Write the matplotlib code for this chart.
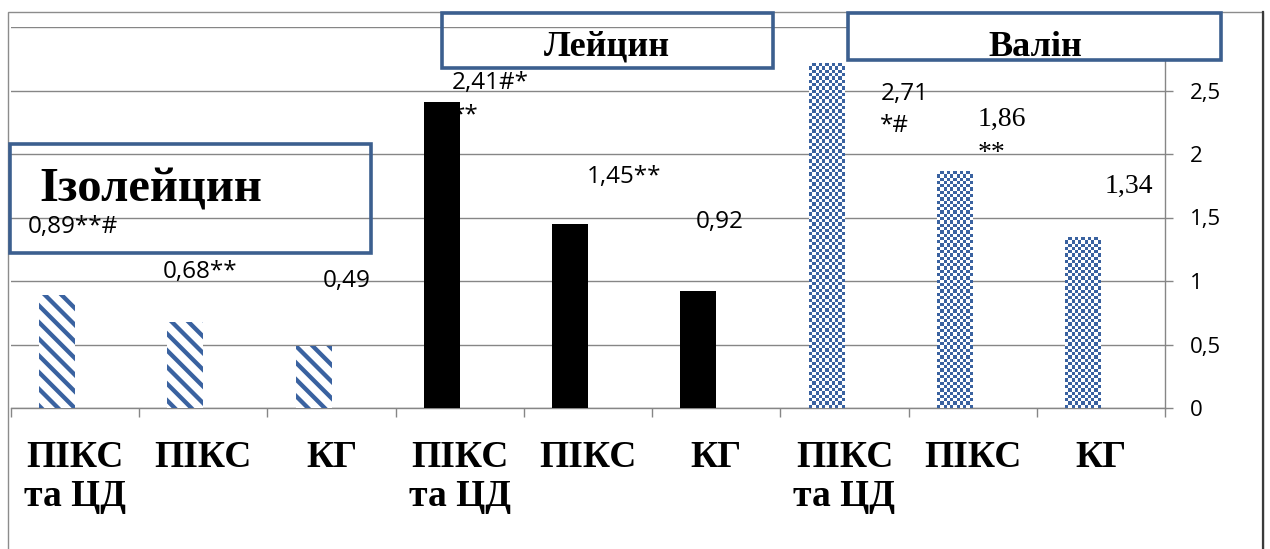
#!/usr/bin/python
# -*- coding: utf-8 -*-

import matplotlib
matplotlib.use('Agg')
from matplotlib import colors
from matplotlib import lines
from matplotlib import patches
from matplotlib import pyplot
from matplotlib import ticker
import numpy

categories = ['ПІКС\nта ЦД', 'ПІКС', 'КГ'] * 3
groups = ['Ізолейцин', 'Лейцин', 'Валін']
isoleucine = [0.89, 0.68, 0.49]
leucine = [2.41, 1.45, 0.92]
valine = [2.71, 1.86, 1.34]
isoleucine_marks = ['**#', '**', '']
leucine_marks = ['#*\n**', '**', '']
valine_marks = ['\n*#', '\n**', '']
y_ticks = [0, 0.5, 1, 1.5, 2, 2.5, 3]

W, H = 1270, 549
BLUE = '#3a62a0'
BOX = '#3c5f8f'
GRID = '#868686'
SERIF = 'Liberation Serif'


def fx(px):
  return px / W


def fy(py):
  return 1 - py / H


def fmt(v):
  return ('%g' % v).replace('.', ',')


def box(fig, x0, y0, x1, y1, fill):
  fig.add_artist(patches.Rectangle(
      (fx(x0), fy(y1)), (x1 - x0) / W, (y1 - y0) / H,
      transform=fig.transFigure,
      facecolor='white' if fill else 'none',
      edgecolor=BOX,
      linewidth=2.6,
      zorder=5))


def main():
  pyplot.rcParams['font.family'] = ['Open Sans', 'DejaVu Sans']
  pyplot.rcParams['hatch.linewidth'] = 3.1

  fig = pyplot.figure(figsize=(W / 100, H / 100), dpi=100)
  ax = fig.add_axes([fx(11), fy(408), (1165 - 11) / W, (408 - 27) / H])

  x = numpy.arange(len(categories))
  width = 0.28
  ax.bar(x[0:3] - width / 2, isoleucine, width=width, facecolor='white',
         edgecolor=BLUE, hatch='\\\\', linewidth=0, zorder=3)
  ax.bar(x[3:6] - width / 2, leucine, width=width, color='black', zorder=3)
  valine_bars = ax.bar(x[6:9] - width / 2, valine, width=width,
                       color='white', linewidth=0, zorder=3)

  # checkerboard fill for the valine bars
  cmap = colors.ListedColormap(['white', BLUE])
  px_per_unit = (408 - 27) / 3.0
  for bar in valine_bars:
    x0, w, h = bar.get_x(), bar.get_width(), bar.get_height()
    nx = 11
    ny = int(round(h * px_per_unit / 3.3))
    checker = numpy.add.outer(numpy.arange(ny), numpy.arange(nx)) % 2
    ax.imshow(checker, cmap=cmap, extent=(x0, x0 + w, 0, h),
              aspect='auto', interpolation='nearest', zorder=3)

  # value labels, placed by hand; y is the baseline of the last line
  values = isoleucine + leucine + valine
  marks = isoleucine_marks + leucine_marks + valine_marks
  label_pos = [(-0.37, 1.38), (0.68, 1.02), (1.93, 0.95),
               (2.94, 2.26), (3.99, 1.77), (4.84, 1.42),
               (6.28, 2.17), (7.04, 1.95), (8.03, 1.69)]
  serif_labels = {7, 8}
  for i, (v, m) in enumerate(zip(values, marks)):
    lx, ly = label_pos[i]
    text = '%.2f' % v
    text = text.replace('.', ',') + m
    if i in serif_labels:
      ax.text(lx, ly, text, ha='left', va='baseline', fontsize=20,
              family=SERIF, linespacing=1.5, zorder=2)
    else:
      ax.text(lx, ly, text, ha='left', va='baseline', fontsize=17.5,
              linespacing=1.45, zorder=2)

  ax.set_xlim(-0.5, 8.5)
  ax.set_ylim(0, 3)
  ax.set_xticks(x)
  ax.set_xticklabels(categories, family=SERIF, fontweight='bold',
                     fontsize=27, linespacing=1.15)
  ax.set_xticks(numpy.arange(-0.5, 9), minor=True)
  ax.tick_params(axis='x', which='major', length=0, pad=23)
  ax.tick_params(axis='x', which='minor', length=6.5, color=GRID, width=1)

  ax.yaxis.tick_right()
  ax.set_yticks(y_ticks)
  ax.yaxis.set_major_formatter(ticker.FuncFormatter(lambda v, p: fmt(v)))
  ax.tick_params(axis='y', length=6, color=GRID, width=1, pad=12,
                 labelsize=16)

  ax.grid(axis='y', color=GRID, linewidth=1)
  ax.set_axisbelow(True)
  for side in ('left', 'top'):
    ax.spines[side].set_visible(False)
  for side in ('right', 'bottom'):
    ax.spines[side].set_color(GRID)
    ax.spines[side].set_linewidth(1)

  # outer chart frame
  fig.add_artist(patches.Rectangle(
      (fx(8), -0.1), (1263 - 8) / W, fy(12) + 0.1,
      transform=fig.transFigure, fill=False, edgecolor='#8c8c8c',
      linewidth=1, zorder=4))
  fig.add_artist(lines.Line2D(
      [fx(1263), fx(1263)], [0, fy(12)], transform=fig.transFigure,
      color='#3a3a3a', linewidth=1.6, zorder=4))

  # group titles
  box(fig, 9.5, 144, 371, 253, False)
  box(fig, 442, 13, 773, 68, False)
  box(fig, 848, 13, 1221, 60, True)
  fig.text(fx(39), fy(202), groups[0], ha='left', va='baseline',
           fontsize=35, family=SERIF, fontweight='bold', zorder=6)
  fig.text(fx(607), fy(56), groups[1], ha='center', va='baseline',
           fontsize=26, family=SERIF, fontweight='bold', zorder=6)
  fig.text(fx(1035), fy(56), groups[2], ha='center', va='baseline',
           fontsize=26, family=SERIF, fontweight='bold', zorder=6)

  fig.savefig('out.png', dpi=100)


if __name__ == '__main__':
  main()
